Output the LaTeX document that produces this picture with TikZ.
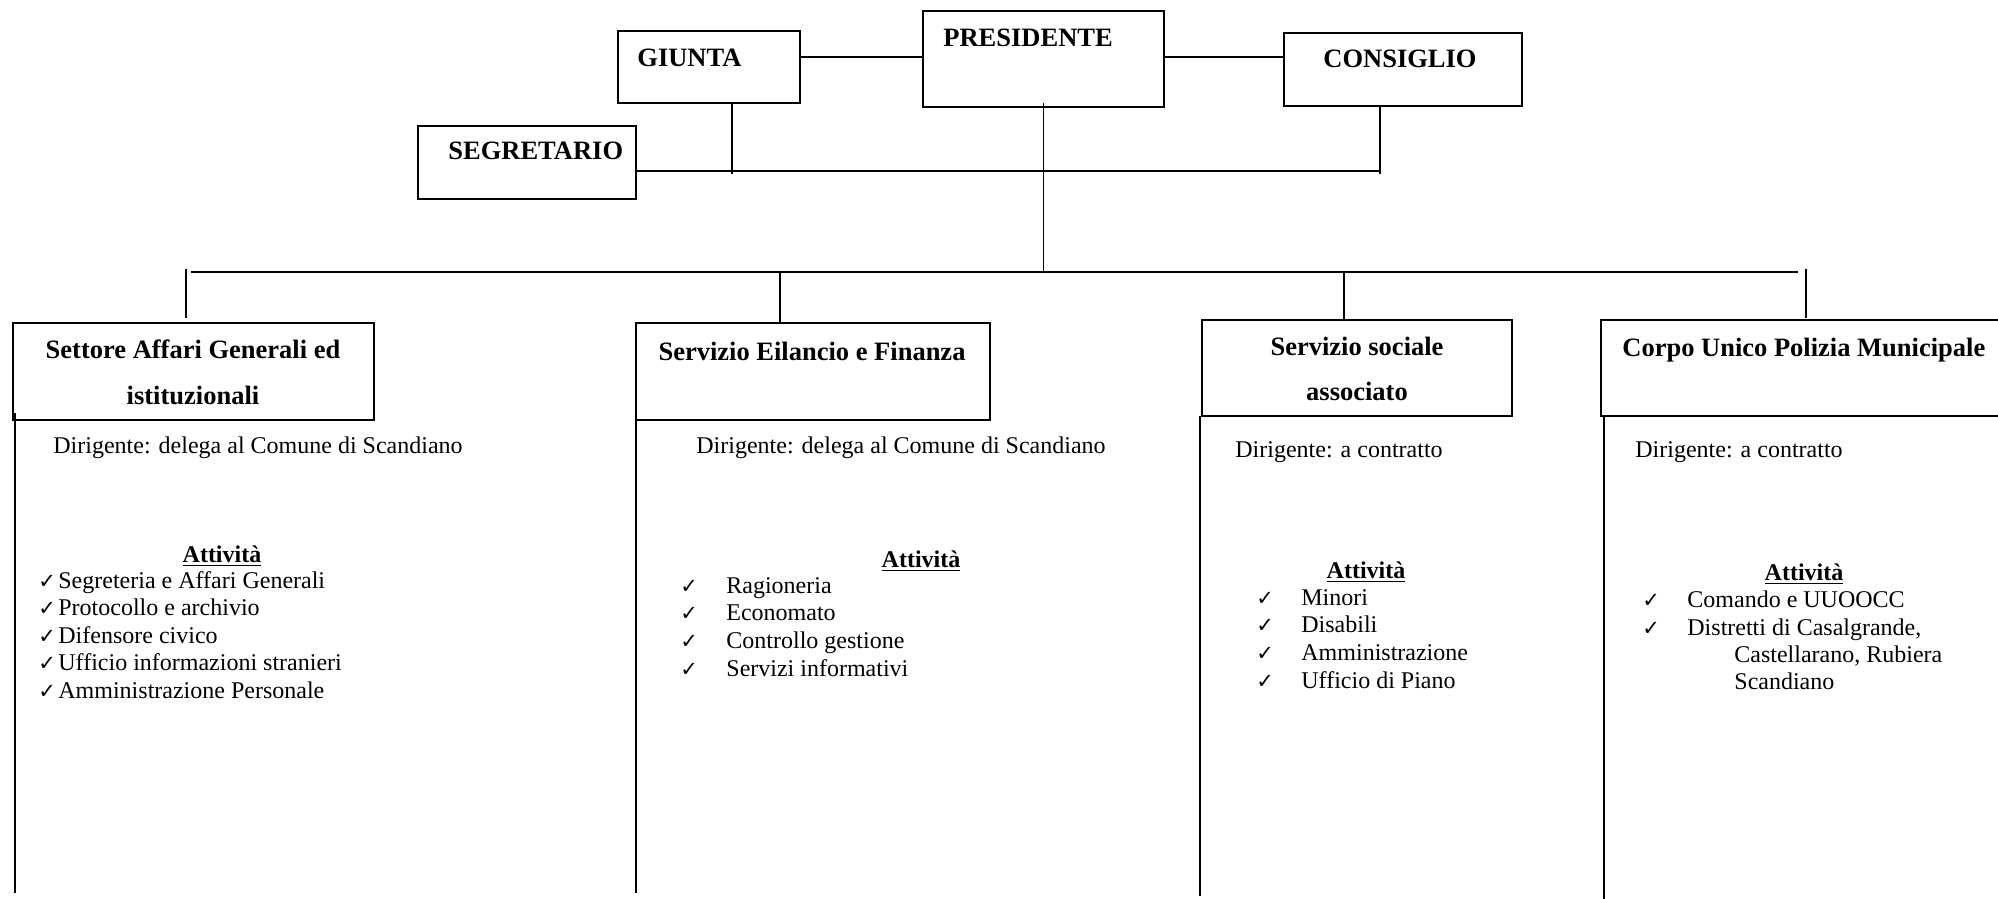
\documentclass[tikz,border=0pt]{standalone}
\usepackage{fontspec}
\usetikzlibrary{calc}
\setmainfont{Liberation Serif}
\newfontfamily\symf{DejaVu Sans}
\begin{document}
\begin{tikzpicture}[x=0.5pt,y=-0.5pt,
  orgbox/.style={draw, line width=1.1pt, rectangle, inner sep=0pt, outer sep=0pt, anchor=north west},
  conn/.style={line width=0.8pt},
  headtxt/.style={anchor=base west, inner sep=0pt, font=\bfseries\fontsize{13.25}{16}\selectfont},
  headc/.style={headtxt, anchor=base},
  bodytxt/.style={anchor=base west, inner sep=0pt, font=\fontsize{12}{14}\selectfont},
  bodyc/.style={bodytxt, anchor=base},
  acttxt/.style={anchor=base, inner sep=0pt, font=\bfseries\fontsize{12}{14}\selectfont},
  ckmark/.style={anchor=base west, inner sep=0pt, font=\symf\fontsize{10.5}{12}\selectfont}]

\useasboundingbox (0,0) rectangle (1998,899);
\clip (0,0) rectangle (1998,899);

% boxes
\node[orgbox, minimum width=91pt,  minimum height=36pt]   (giunta) at (618,31) {};
\node[orgbox, minimum width=120.5pt, minimum height=48pt] (pres)   at (923,11) {};
\node[orgbox, minimum width=119pt, minimum height=36.5pt] (cons)   at (1284,33) {};
\node[orgbox, minimum width=109pt, minimum height=36.5pt] (segr)   at (418,126) {};
\node[orgbox, minimum width=180.5pt, minimum height=48.5pt] (s1) at (13,323) {};
\node[orgbox, minimum width=177pt, minimum height=48.5pt]   (s2) at (636,323) {};
\node[orgbox, minimum width=155pt, minimum height=48pt]     (s3) at (1202,320) {};
\node[orgbox, minimum width=210pt, minimum height=48pt]     (s4) at (1601,320) {};

% top texts
\node[headtxt] (tgiunta) at (637,67) {GIUNTA};
\node[headtxt] (tpres) at (943,47) {PRESIDENTE};
\node[headtxt] (tcons) at (1323,68) {CONSIGLIO};
\node[headtxt] (tsegr) at (448,160) {SEGRETARIO};

% connectors top
\coordinate (ly) at (0,57);
\draw[conn] (giunta.east |- ly) -- (pres.west |- ly);
\draw[conn] (pres.east |- ly) -- (cons.west |- ly);
\coordinate (hy) at (0,171);
\coordinate (gj) at (732,174);
\coordinate (cj) at (1380,174);
\draw[conn] (segr.east |- hy) -- (cj |- hy);
\draw[conn] (giunta.south -| gj) -- (gj);
\draw[conn] (cons.south -| cj) -- (cj);
\coordinate (by) at (0,272);
\draw[conn] ($(pres.south)+(0,-4)$) -- (pres.south |- by);

% main horizontal bar
\coordinate (bl) at (191,272);
\coordinate (br) at (1798,272);
\draw[conn] (bl) -- (br);

% drops
\coordinate (d1) at (186,269);
\coordinate (d2) at (780,272);
\coordinate (d3) at (1344,272);
\coordinate (d4) at (1806,269);
\draw[conn] (d1) -- ($(s1.north -| d1)+(0,-5)$);
\draw[conn] (d2) -- (s2.north -| d2);
\draw[conn] (d3) -- (s3.north -| d3);
\draw[conn] (d4) -- ($(s4.north -| d4)+(0,-2)$);

% long verticals
\coordinate (e1) at (15,893);
\coordinate (e2) at (636,893);
\coordinate (e3) at (1200,896);
\coordinate (e4) at (1604,905);
\draw[conn] ($(s1.south -| e1)+(0,-7)$) -- (e1);
\draw[conn] (s2.south -| e2) -- (e2);
\draw[conn] (s3.south -| e3) -- (e3);
\draw[conn] (s4.south -| e4) -- (e4);

% box titles
\node[headc] (h1a) at (193,358) {Settore Affari Generali ed};
\node[headc] (h1b) at (193,404) {istituzionali};
\node[headc] (h2) at (812,360) {Servizio Eilancio e Finanza};
\node[headc] (h3a) at (1357,355) {Servizio sociale};
\node[headc] (h3b) at (1357,400) {associato};
\node[headtxt] (h4) at (1622,356) {Corpo Unico Polizia Municipale};

% dirigente
\node[bodytxt] (g1) at (53,453) {Dirigente: delega al Comune di Scandiano};
\node[bodytxt] (g2) at (696,453) {Dirigente: delega al Comune di Scandiano};
\node[bodytxt] (g3) at (1235,457) {Dirigente: a contratto};
\node[bodytxt] (g4) at (1635,457) {Dirigente: a contratto};

% attivita
\node[acttxt] (a1) at (222,562) {\underline{Attività}};
\node[acttxt] (a2) at (921,567) {\underline{Attività}};
\node[acttxt] (a3) at (1366,578) {\underline{Attività}};
\node[acttxt] (a4) at (1804,580) {\underline{Attività}};

% lists
\foreach \t [count=\i from 0] in {Segreteria e Affari Generali, Protocollo e archivio, Difensore civico, Ufficio informazioni stranieri, Amministrazione Personale} {
  \node[ckmark] (c1\i) at (38,{588+27.5*\i}) {✓};
  \node[bodytxt] (t1\i) at (58,{588+27.5*\i}) {\t};
}
\foreach \t [count=\i from 0] in {Ragioneria, Economato, Controllo gestione, Servizi informativi} {
  \node[ckmark] (c2\i) at (680,{593+27.7*\i}) {✓};
  \node[bodytxt] (t2\i) at (726,{593+27.7*\i}) {\t};
}
\foreach \t [count=\i from 0] in {Minori, Disabili, Amministrazione, Ufficio di Piano} {
  \node[ckmark] (c3\i) at (1256,{605+27.7*\i}) {✓};
  \node[bodytxt] (t3\i) at (1301,{605+27.7*\i}) {\t};
}
\node[ckmark] (c40) at (1642,607) {✓};
\node[bodytxt] (t40) at (1687,607) {Comando e UUOOCC};
\node[ckmark] (c41) at (1642,635) {✓};
\node[bodytxt] (t41) at (1687,635) {Distretti di Casalgrande,};
\node[bodytxt] (t42) at (1734,662) {Castellarano, Rubiera};
\node[bodytxt] (t43) at (1734,689) {Scandiano};

\end{tikzpicture}
\end{document}
